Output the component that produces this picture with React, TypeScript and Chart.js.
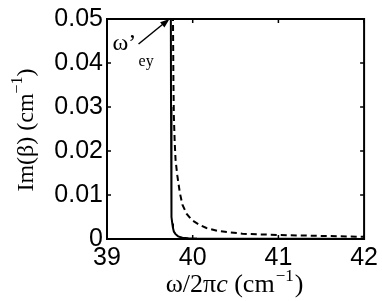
import React, { useEffect, useRef } from "react";
import { Chart, registerables } from "chart.js";

Chart.register(...registerables);

const xTicks = [39, 40, 41, 42];
const yTicks = [0, 0.01, 0.02, 0.03, 0.04, 0.05];

const solidX = [39.74, 39.745, 39.747, 39.749, 39.752, 39.756, 39.762, 39.77, 39.78, 39.8, 39.83, 39.88, 39.95, 40.05, 40.3, 40.8, 41.5, 42];
const solidY = [0.06, 0.05, 0.03, 0.015, 0.0075, 0.005, 0.0035, 0.0025, 0.0017, 0.0011, 0.0006, 0.0003, 0.00018, 0.00012, 0.00008, 0.00005, 0.00003, 0.00002];

const dashX = [39.765, 39.77, 39.775, 39.78, 39.79, 39.8, 39.82, 39.85, 39.88, 39.93, 39.99, 40.08, 40.16, 40.3, 40.58, 41.0, 41.5, 42];
const dashY = [0.06, 0.05, 0.036, 0.028, 0.022, 0.018, 0.0145, 0.0105, 0.0078, 0.0057, 0.0043, 0.0032, 0.0025, 0.0018, 0.0012, 0.0009, 0.0007, 0.0005];

const annotX = 39.73;
const annotY = 0.05;

const SANS = "'Liberation Sans', Arial, sans-serif";
const SERIF = "'Liberation Serif', 'Times New Roman', serif";

function drawRich(ctx: CanvasRenderingContext2D, parts: { t: string; f: string; dy?: number; dx?: number }[], x: number, y: number, align: "center" | "left") {
  let total = 0;
  for (const p of parts) {
    ctx.font = p.f;
    total += ctx.measureText(p.t).width + (p.dx || 0);
  }
  let cx = align === "center" ? x - total / 2 : x;
  ctx.textAlign = "left";
  ctx.textBaseline = "alphabetic";
  for (const p of parts) {
    ctx.font = p.f;
    cx += p.dx || 0;
    ctx.fillText(p.t, cx, y + (p.dy || 0));
    cx += ctx.measureText(p.t).width;
  }
}

const decorPlugin = {
  id: "decor",
  afterDraw(chart: any) {
    const ctx: CanvasRenderingContext2D = chart.ctx;
    const { left, right, top, bottom } = chart.chartArea;
    const xs = chart.scales.x;
    const ys = chart.scales.y;
    ctx.save();
    ctx.strokeStyle = "#000";
    ctx.fillStyle = "#000";
    ctx.lineWidth = 2;
    ctx.strokeRect(left, top, right - left, bottom - top);
    ctx.lineWidth = 1.5;
    const tl = 4;
    for (const v of xTicks) {
      const px = xs.getPixelForValue(v);
      ctx.beginPath();
      ctx.moveTo(px, bottom);
      ctx.lineTo(px, bottom - tl);
      ctx.moveTo(px, top);
      ctx.lineTo(px, top + tl);
      ctx.stroke();
    }
    for (const v of yTicks) {
      const py = ys.getPixelForValue(v);
      ctx.beginPath();
      ctx.moveTo(left, py);
      ctx.lineTo(left + tl, py);
      ctx.moveTo(right, py);
      ctx.lineTo(right - tl, py);
      ctx.stroke();
    }
    // x title
    const fx = `26px ${SERIF}`;
    const fxi = `italic 26px ${SERIF}`;
    const fxs = `17px ${SERIF}`;
    drawRich(ctx, [
      { t: "ω/2π", f: fx },
      { t: "c", f: fxi },
      { t: " (cm", f: fx },
      { t: "−1", f: fxs, dy: -11, dx: 1 },
      { t: ")", f: fx, dx: 1 },
    ], (left + right) / 2 - 1, 292, "center");
    // y title
    const f = `24px ${SERIF}`;
    const fs = `16px ${SERIF}`;
    ctx.save();
    ctx.translate(33, (top + bottom) / 2 + 1);
    ctx.rotate(-Math.PI / 2);
    drawRich(ctx, [
      { t: "Im(β) (cm", f },
      { t: "−1", f: fs, dy: -11 },
      { t: ")", f },
    ], 0, 0, "center");
    ctx.restore();
    // annotation
    const tx = xs.getPixelForValue(annotX);
    const ty = ys.getPixelForValue(annotY);
    const sx = tx - 31;
    const sy = ty + 25;
    ctx.lineWidth = 1.5;
    ctx.beginPath();
    ctx.moveTo(sx, sy);
    ctx.lineTo(tx - 4, ty + 3);
    ctx.stroke();
    const ang = Math.atan2(ty - sy, tx - sx);
    ctx.beginPath();
    ctx.moveTo(tx, ty);
    ctx.lineTo(tx - 10 * Math.cos(ang - 0.35), ty - 10 * Math.sin(ang - 0.35));
    ctx.lineTo(tx - 10 * Math.cos(ang + 0.35), ty - 10 * Math.sin(ang + 0.35));
    ctx.closePath();
    ctx.fill();
    drawRich(ctx, [{ t: "ω’", f: `24px ${SERIF}` }], sx - 26, sy + 6, "left");
    drawRich(ctx, [{ t: "ey", f: `16px ${SERIF}` }], sx, sy + 22, "left");
    ctx.restore();
  },
};

export default function App() {
  const ref = useRef<HTMLCanvasElement>(null);
  useEffect(() => {
    document.body.style.margin = "0";
    const chart = new Chart(ref.current!, {
      type: "scatter",
      data: {
        datasets: [
          {
            data: solidX.map((x, i) => ({ x, y: solidY[i] })),
            showLine: true,
            borderColor: "#000",
            borderWidth: 2,
            pointRadius: 0,
            tension: 0,
          },
          {
            data: dashX.map((x, i) => ({ x, y: dashY[i] })),
            showLine: true,
            borderColor: "#000",
            borderWidth: 2,
            borderDash: [6, 4],
            pointRadius: 0,
            tension: 0,
          },
        ],
      },
      options: {
        animation: false,
        responsive: false,
        events: [],
        layout: { padding: { left: 0, right: 17, top: 16, bottom: 0 } },
        plugins: { legend: { display: false }, tooltip: { enabled: false } },
        scales: {
          x: {
            type: "linear",
            min: 39,
            max: 42,
            afterFit: (s: any) => { s.height = 62; },
            afterBuildTicks: (s: any) => { s.ticks = xTicks.map((v) => ({ value: v })); },
            grid: { display: false, drawTicks: false },
            border: { display: false },
            ticks: { color: "#000", font: { family: SANS, size: 25 }, padding: 4, maxRotation: 0, callback: (v: any) => String(v) },
          },
          y: {
            type: "linear",
            min: 0,
            max: 0.05,
            afterFit: (s: any) => { s.width = 107; },
            afterBuildTicks: (s: any) => { s.ticks = yTicks.map((v) => ({ value: v })); },
            grid: { display: false, drawTicks: false },
            border: { display: false },
            ticks: { color: "#000", font: { family: SANS, size: 25 }, padding: 4, callback: (v: any) => (v === 0 ? "0" : Number(v).toFixed(2)) },
          },
        },
      },
      plugins: [decorPlugin],
    });
    return () => chart.destroy();
  }, []);
  return (
    <div style={{ width: 382, height: 301, background: "#fff" }}>
      <canvas ref={ref} width={382} height={301} />
    </div>
  );
}
